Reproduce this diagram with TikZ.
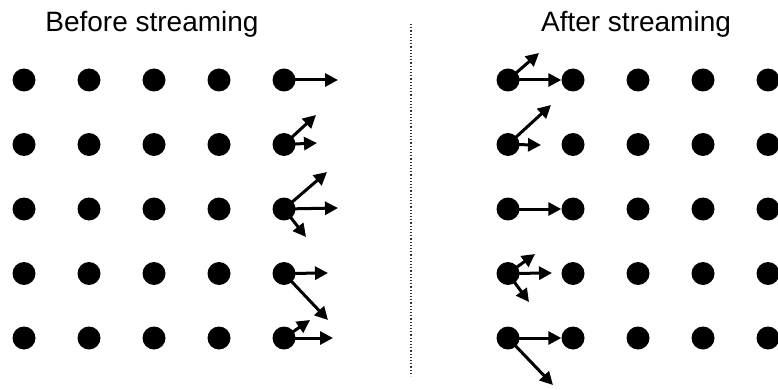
\documentclass[tikz,border=0pt]{standalone}
\usepackage{fontspec}
\setmainfont{Liberation Sans}
\usetikzlibrary{arrows.meta}
\tikzset{
  pont/.style={circle,fill,inner sep=0pt,minimum size=23pt},
  nyil/.style={-{Triangle[length=13pt,width=13pt]},line width=3pt},
  cim/.style={anchor=base,font=\fontsize{28}{32}\selectfont},
  valaszto/.style={black!80,dotted,line width=1.2pt},
}

\begin{document}
\begin{tikzpicture}[x=1pt,y=-1pt]
  \useasboundingbox (0,0) rectangle (778,390);
  \node[cim] (before) at (152,32) {Before streaming};
  \node[cim] (after) at (636,32) {After streaming};
  \draw[valaszto] (411,24) -- (411,376);
  % dot grids
  \foreach \i in {1,...,5} {
    \foreach \j in {1,...,5} {
      \node[pont] (b\i\j) at ({24+65*(\i-1)},{80+64.5*(\j-1)}) {};
      \node[pont] (a\i\j) at ({508+65*(\i-1)},{80+64.5*(\j-1)}) {};
    }
  }
  % before: populations leaving the last column
  \coordinate (t11) at (338,80);
  \coordinate (t21) at (317,143); \coordinate (t22) at (316,115);
  \coordinate (t31) at (338,208); \coordinate (t32) at (327,172); \coordinate (t33) at (306,237);
  \coordinate (t41) at (328,273); \coordinate (t42) at (328,320);
  \coordinate (t51) at (333,338); \coordinate (t52) at (310,320);
  \draw[nyil] (b51.center) -- (t11);
  \draw[nyil] (b52.center) -- (t21); \draw[nyil] (b52.center) -- (t22);
  \draw[nyil] (b53.center) -- (t31); \draw[nyil] (b53.center) -- (t32);
  \draw[nyil] (b53.center) -- (t33);
  \draw[nyil] (b54.center) -- (t41); \draw[nyil] (b54.center) -- (t42);
  \draw[nyil] (b55.center) -- (t51); \draw[nyil] (b55.center) -- (t52);
  % after: populations arriving at the first column
  \coordinate (s12) at (539,53);
  \coordinate (s21) at (551,105); \coordinate (s22) at (541,145);
  \coordinate (s41) at (552,273); \coordinate (s42) at (535,254); \coordinate (s43) at (529,302);
  \coordinate (s52) at (553,385);
  \draw[nyil] (a11.center) -- (a21); \draw[nyil] (a11.center) -- (s12);
  \draw[nyil] (a12.center) -- (s21); \draw[nyil] (a12.center) -- (s22);
  \draw[nyil] (a13.center) -- (a23);
  \draw[nyil] (a14.center) -- (s41); \draw[nyil] (a14.center) -- (s42);
  \draw[nyil] (a14.center) -- (s43);
  \draw[nyil] (a15.center) -- (a25); \draw[nyil] (a15.center) -- (s52);
\end{tikzpicture}
\end{document}
